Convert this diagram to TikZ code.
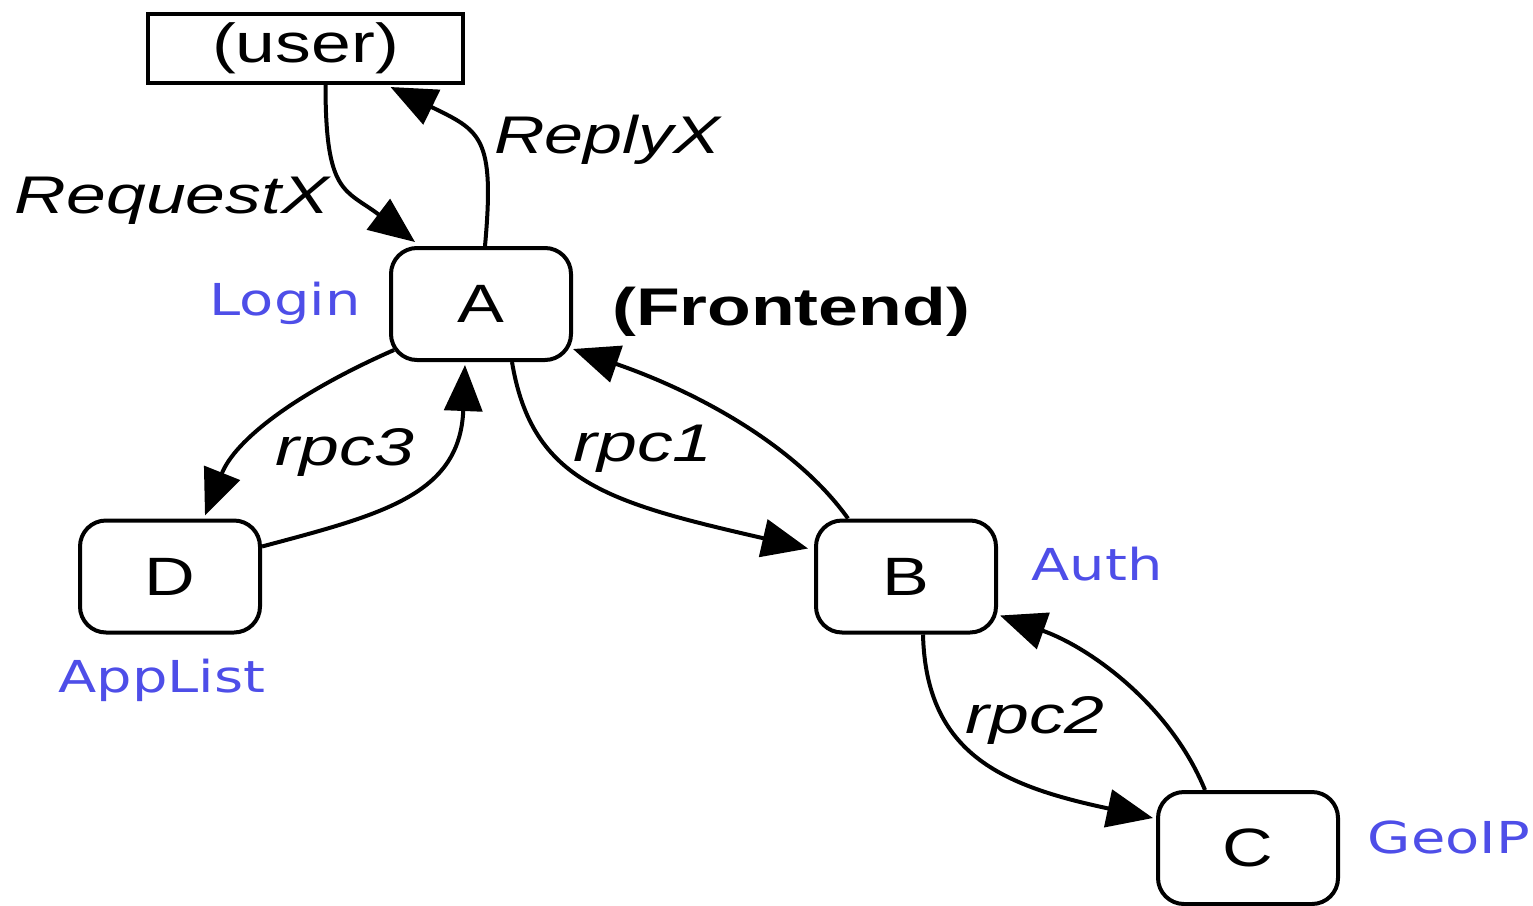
\documentclass[tikz,border=0pt]{standalone}
\usepackage{graphicx}
\usepackage{fontspec}
\setmainfont{Liberation Sans}
\newfontfamily\blufont{DejaVu Sans}
\usetikzlibrary{arrows.meta}
\definecolor{lblblue}{RGB}{78,78,232}
\newcommand{\hs}[2][1.3]{\scalebox{#1}[1]{#2}}
\tikzset{
  x=1pt, y=-1pt,
  svc/.style={draw, line width=4pt, rounded corners=26pt, minimum width=180pt,
    minimum height=112pt, inner sep=0pt, font=\fontsize{54}{60}\selectfont},
  userbox/.style={draw, line width=4pt, minimum width=315pt, minimum height=69pt,
    inner sep=0pt, font=\fontsize{55}{60}\selectfont},
  conn/.style={line width=4pt, -{Triangle[length=46pt,width=38pt]}},
  lbl/.style={anchor=base, inner sep=0pt, font=\fontsize{53}{60}\selectfont\itshape},
  svcname/.style={anchor=base, inner sep=0pt, text=lblblue, font=\fontsize{44}{50}\selectfont\blufont},
}
\begin{document}
\begin{tikzpicture}
\useasboundingbox (0,0) rectangle (1533,905);
\node[userbox] (user) at (305.5,48.5) {\hs{(user)}};
\node[svc] (A) at (481,304) {\hs{A}};
\node[svc] (D) at (170,576.5) {\hs{D}};
\node[svc] (B) at (906,576.5) {\hs{B}};
\node[svc] (C) at (1248,848) {\hs{C}};

\node[svcname] (login) at (285,315) {\hs[1.27]{Login}};
\node[svcname] (auth) at (1097,580) {\hs[1.27]{Auth}};
\node[svcname] (applist) at (162,692) {\hs[1.27]{AppList}};
\node[svcname] (geoip) at (1449,853) {\hs[1.27]{GeoIP}};
\node[anchor=base, inner sep=0pt, font=\fontsize{53}{60}\selectfont\bfseries] (fe) at (791,325) {\hs[1.35]{(Frontend)}};

\node[lbl] (lreq) at (172,213) {\hs[1.35]{RequestX}};
\node[lbl] (lrep) at (607,153) {\hs[1.32]{ReplyX}};
\node[lbl] (lr3) at (345,465) {\hs[1.35]{rpc3}};
\node[lbl] (lr1) at (643,461) {\hs[1.35]{rpc1}};
\node[lbl] (lr2) at (1035,733) {\hs[1.35]{rpc2}};

% user <-> A
\draw[conn] ([xshift=20pt]user.south) .. controls +(0,110) and +(-70,-53) .. ([xshift=-66pt,yshift=4pt]A.north);
\draw[conn] ([xshift=4pt]A.north) .. controls +(10,-110) and +(90,44) .. ([xshift=85pt,yshift=-2pt]user.south);
% A <-> D
\draw[conn] ([xshift=5pt,yshift=12pt]A.south west) .. controls +(-100,44) and +(30,-75) .. ([xshift=35pt,yshift=3pt]D.north);
\draw[conn] ([yshift=30pt]D.east) .. controls +(120,-32) and +(-5,130) .. ([xshift=-16pt,yshift=-3pt]A.south);
% A <-> B
\draw[conn] ([xshift=31pt]A.south) .. controls +(20,120) and +(-200,-46) .. ([xshift=-6pt,yshift=28pt]B.west);
\draw[conn] ([xshift=-58pt]B.north) .. controls +(-50,-70) and +(130,45) .. ([yshift=13pt]A.south east);
% B <-> C
\draw[conn] ([xshift=17pt]B.south) .. controls +(3,120) and +(-150,-32) .. ([xshift=-3pt,yshift=30pt]C.west);
\draw[conn] ([xshift=-43pt]C.north) .. controls +(-35,-85) and +(90,32) .. ([xshift=2pt,yshift=-39pt]B.east);
\end{tikzpicture}
\end{document}
